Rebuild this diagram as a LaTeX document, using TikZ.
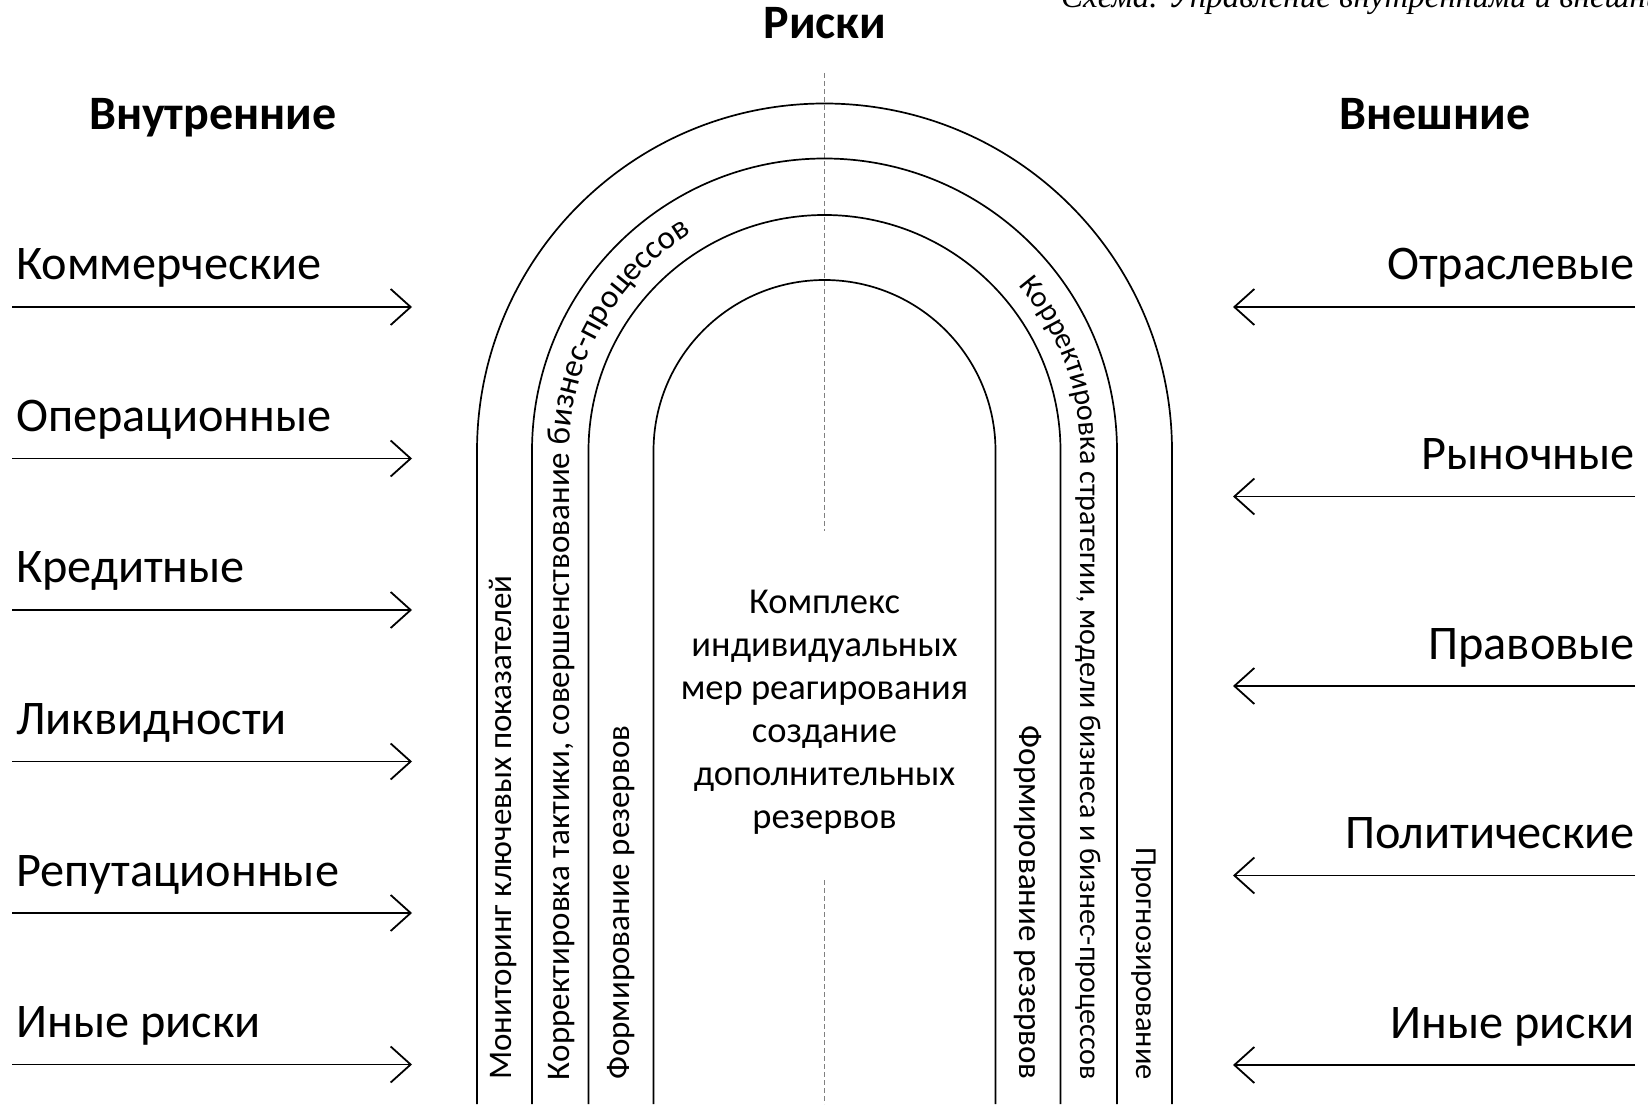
\documentclass[tikz,border=0pt]{standalone}
\usepackage{fontspec}
\setmainfont{Carlito}
\newfontfamily\capfont{Liberation Serif}
\usetikzlibrary{arrows.meta,decorations.text,positioning}

\tikzset{
  arch/.style={line width=1.7pt},
  axisline/.style={gray, line width=0.8pt, dash pattern=on 5pt off 3pt},
  riskarrow/.style={line width=1.8pt, -{Straight Barb[length=20pt,width=36pt]}},
  risklbl/.style={inner sep=0pt, font=\fontsize{48.3}{54}\selectfont},
  headlbl/.style={inner sep=0pt, font=\fontsize{48}{54}\selectfont\bfseries},
  bandlbl/.style={inner sep=0pt, font=\fontsize{33}{40}\selectfont},
}

\begin{document}
\begin{tikzpicture}[x=1pt,y=1pt]
        \useasboundingbox (0,0) rectangle (1648,1104);
        \clip (0,0) rectangle (1648,1104);

        % Caption (cut at the top edge)
        \node[anchor=base west, inner sep=0pt, font=\capfont\itshape\fontsize{33}{40}\selectfont] (caption) at (1061,1096) {Схема. Управление внутренними и внешними рисками};

        % Headings
        \node[headlbl, anchor=base] (risks) at (825,1065) {Риски};
        \node[headlbl, anchor=base] (inner) at (213,974) {Внутренние};
        \node[headlbl, anchor=base] (outer) at (1435,974) {Внешние};

        % Axis (dashed)
        \coordinate (axtop) at (824.5,1031);
        \coordinate (axmid) at (824.5,573);
        \coordinate (axlow) at (824.5,224);
        \coordinate (axbot) at (824.5,0);
        \draw[axisline] (axtop) -- (axmid);
        \draw[axisline] (axlow) -- (axbot);

        % Arches, centre at (824.5,653)
        \draw[arch] (477,0) -- (477,653) arc[start angle=180, end angle=0, radius=347.5] -- (1172,0);
        \draw[arch] (532,0) -- (532,653) arc[start angle=180, end angle=0, radius=292.5] -- (1117,0);
        \draw[arch] (588.5,0) -- (588.5,653) arc[start angle=180, end angle=0, radius=236] -- (1060.5,0);
        \draw[arch] (653.5,0) -- (653.5,653) arc[start angle=180, end angle=0, radius=171] -- (995.5,0);

        % Centre text
        \node[bandlbl, align=center, font=\fontsize{36.5}{43}\selectfont] (measures) at (824.5,392) {Комплекс\\индивидуальных\\мер реагирования\\создание\\дополнительных\\резервов};

        % Left bands
        \node[bandlbl, rotate=90, anchor=west] (monitor) at (503.5,24) {Мониторинг ключевых показателей};
        \node[bandlbl, rotate=90, anchor=west] (reserveL) at (621,24) {Формирование резервов};
        \path[decorate, decoration={text along path, text align=left,
            text={|\fontsize{33}{40}\selectfont|Корректировка тактики, совершенствование бизнес-процессов}}]
            (569.5,24) -- (569.5,653) arc[start angle=180, end angle=30, radius=255];

        % Right bands
        \node[bandlbl, rotate=-90, anchor=east] (reserveR) at (1028,24) {Формирование резервов};
        \node[bandlbl, rotate=-90, anchor=east, font=\fontsize{30.5}{36}\selectfont] (forecast) at (1143.5,24) {Прогнозирование};
        \path[decorate, decoration={text along path, text align=right,
            text={|\fontsize{30}{36}\selectfont|Корректировка стратегии, модели бизнеса и бизнес-процессов}}]
            (824.5,908) arc[start angle=90, end angle=0, radius=256] -- (1080.5,24);

        % Internal risks (left)
        \node[risklbl, anchor=base west] (comm) at (16,824) {Коммерческие};
        \coordinate (comm-s) at (12,797); \coordinate (comm-e) at (412,797);
        \draw[riskarrow] (comm-s) -- (comm-e);
        \node[risklbl, anchor=base west] (oper) at (16,672.5) {Операционные};
        \coordinate (oper-s) at (12,645.5); \coordinate (oper-e) at (412,645.5);
        \draw[riskarrow] (oper-s) -- (oper-e);
        \node[risklbl, anchor=base west] (cred) at (16,521) {Кредитные};
        \coordinate (cred-s) at (12,494); \coordinate (cred-e) at (412,494);
        \draw[riskarrow] (cred-s) -- (cred-e);
        \node[risklbl, anchor=base west] (liq) at (16,369.5) {Ликвидности};
        \coordinate (liq-s) at (12,342.5); \coordinate (liq-e) at (412,342.5);
        \draw[riskarrow] (liq-s) -- (liq-e);
        \node[risklbl, anchor=base west] (rep) at (16,218) {Репутационные};
        \coordinate (rep-s) at (12,191); \coordinate (rep-e) at (412,191);
        \draw[riskarrow] (rep-s) -- (rep-e);
        \node[risklbl, anchor=base west] (othL) at (16,66.5) {Иные риски};
        \coordinate (othL-s) at (12,39.5); \coordinate (othL-e) at (412,39.5);
        \draw[riskarrow] (othL-s) -- (othL-e);

        % External risks (right)
        \node[risklbl, anchor=base east] (ind) at (1635,824) {Отраслевые};
        \coordinate (ind-s) at (1635,797); \coordinate (ind-e) at (1233,797);
        \draw[riskarrow] (ind-s) -- (ind-e);
        \node[risklbl, anchor=base east] (mkt) at (1635,634.5) {Рыночные};
        \coordinate (mkt-s) at (1635,607.5); \coordinate (mkt-e) at (1233,607.5);
        \draw[riskarrow] (mkt-s) -- (mkt-e);
        \node[risklbl, anchor=base east] (law) at (1635,445) {Правовые};
        \coordinate (law-s) at (1635,418); \coordinate (law-e) at (1233,418);
        \draw[riskarrow] (law-s) -- (law-e);
        \node[risklbl, anchor=base east] (pol) at (1635,255.5) {Политические};
        \coordinate (pol-s) at (1635,228.5); \coordinate (pol-e) at (1233,228.5);
        \draw[riskarrow] (pol-s) -- (pol-e);
        \node[risklbl, anchor=base east] (othR) at (1635,66) {Иные риски};
        \coordinate (othR-s) at (1635,39); \coordinate (othR-e) at (1233,39);
        \draw[riskarrow] (othR-s) -- (othR-e);
    \end{tikzpicture}
\end{document}
